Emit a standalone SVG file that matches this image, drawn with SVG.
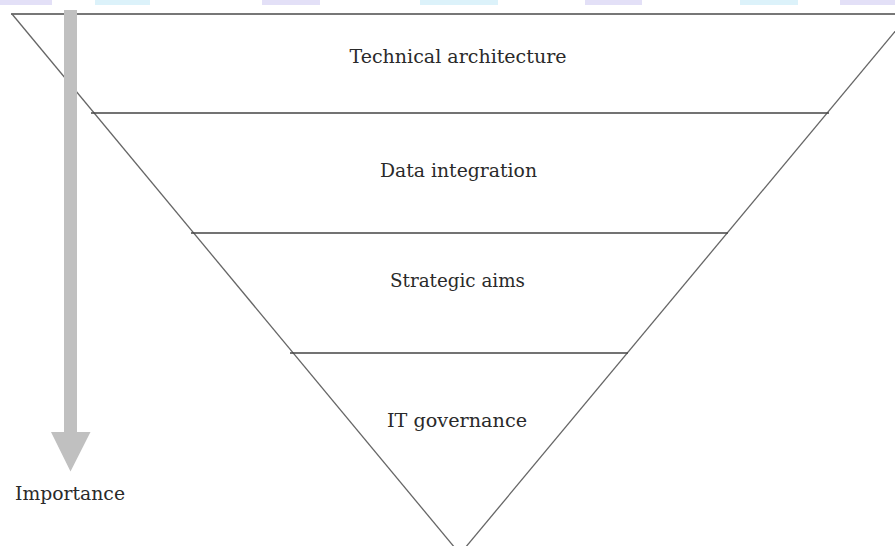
<svg xmlns="http://www.w3.org/2000/svg" width="895" height="546" viewBox="0 0 895 546">
<style>
.lbl{font-family:"DejaVu Serif","Liberation Serif",serif;font-size:19px;fill:#2a2a2a;text-anchor:middle}
.edge{stroke:#666;stroke-width:1.3;fill:none}
.band{stroke:#444;stroke-width:1.5}
.wm-l{fill:#e3e0f7}
.wm-c{fill:#dcf2fa}
</style>
<rect width="895" height="546" fill="#fff"/>
<g id="watermark">
<rect class="wm-l" x="0" y="0" width="52" height="5"/>
<rect class="wm-c" x="95" y="0" width="55" height="5"/>
<rect class="wm-l" x="262" y="0" width="58" height="5"/>
<rect class="wm-c" x="420" y="0" width="78" height="5"/>
<rect class="wm-l" x="585" y="0" width="57" height="5"/>
<rect class="wm-c" x="740" y="0" width="58" height="5"/>
<rect class="wm-l" x="840" y="0" width="55" height="5"/>
</g>
<g id="connectors">
<line x1="11" y1="14" x2="895" y2="14" stroke="#777" stroke-width="2"/>
<line class="edge" x1="12" y1="14" x2="460" y2="554"/>
<line class="edge" x1="909.5" y1="14" x2="460" y2="554"/>
<line class="band" x1="91" y1="113" x2="829" y2="113"/>
<line class="band" x1="191" y1="233" x2="728" y2="233"/>
<line class="band" x1="290" y1="353" x2="628" y2="353"/>
</g>
<g id="arrow">
<polygon points="64,10 77,10 77,432 90.5,432 70.5,471.5 51,432 64,432" fill="#c0c0c0"/>
</g>
<g id="node-technical"><text class="lbl" x="458" y="63" textLength="217" lengthAdjust="spacingAndGlyphs">Technical architecture</text></g>
<g id="node-data"><text class="lbl" x="458.5" y="177" textLength="157" lengthAdjust="spacingAndGlyphs">Data integration</text></g>
<g id="node-strategic"><text class="lbl" x="457.5" y="287" textLength="135" lengthAdjust="spacingAndGlyphs">Strategic aims</text></g>
<g id="node-it"><text class="lbl" x="457" y="427" textLength="140" lengthAdjust="spacingAndGlyphs">IT governance</text></g>
<g id="label-importance"><text class="lbl" x="70" y="500" textLength="110" lengthAdjust="spacingAndGlyphs">Importance</text></g>
</svg>
